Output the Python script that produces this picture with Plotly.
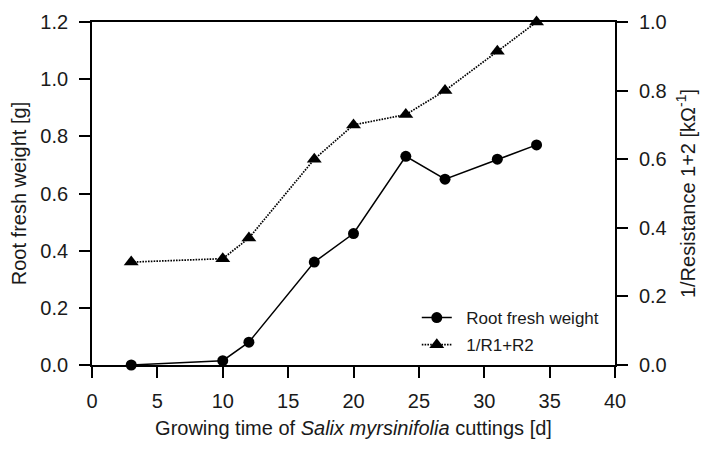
import plotly.graph_objects as go

days = [3, 10, 12, 17, 20, 24, 27, 31, 34]
root_weight = [0.0, 0.015, 0.08, 0.36, 0.46, 0.73, 0.65, 0.72, 0.77]
inv_resistance = [0.30, 0.31, 0.37, 0.60, 0.70, 0.73, 0.80, 0.915, 1.0]

x_ticks = [0, 5, 10, 15, 20, 25, 30, 35, 40]
y_left_ticks = [0, 0.2, 0.4, 0.6, 0.8, 1.0, 1.2]
y_right_ticks = [0, 0.2, 0.4, 0.6, 0.8, 1.0]

FONT = "Liberation Sans, Arial, sans-serif"
TXT = "#1a1a1a"

fig = go.Figure()
fig.add_trace(go.Scatter(
    x=days, y=root_weight, name="\u00a0\u00a0Root fresh weight", mode="lines+markers",
    line=dict(color="black", width=1.5),
    marker=dict(symbol="circle", size=11, color="black"),
    yaxis="y", cliponaxis=False, legend="legend"))
fig.add_trace(go.Scatter(
    x=days, y=inv_resistance, name="\u00a0\u00a01/R1+R2", mode="lines+markers",
    line=dict(color="black", width=1.7, dash="1.6px,1.2px"),
    marker=dict(symbol="triangle-up", size=13, color="black"),
    yaxis="y2", cliponaxis=False, legend="legend2"))

axis_common = dict(showline=True, linecolor="black", linewidth=1.8,
                   ticks="outside", ticklen=11, tickwidth=1.8, tickcolor="black",
                   showgrid=False, zeroline=False, automargin=False,
                   tickfont=dict(family=FONT, size=20, color=TXT))

leg_common = dict(xanchor="left", yanchor="middle", bgcolor="rgba(0,0,0,0)",
                  font=dict(family=FONT, size=17, color=TXT), borderwidth=0)

fig.update_layout(
    template="none",
    width=702, height=450,
    margin=dict(l=84, r=95, t=14, b=92.5, autoexpand=False),
    paper_bgcolor="white", plot_bgcolor="white",
    font=dict(family=FONT, color=TXT),
    xaxis=dict(range=[0, 40], tickvals=x_ticks, mirror=True,
               ticklabelstandoff=6,
               title=dict(text="Growing time of <i>Salix myrsinifolia</i> cuttings [d]",
                          font=dict(family=FONT, size=20, color=TXT), standoff=10),
               **axis_common),
    yaxis=dict(range=[0, 1.2], tickvals=y_left_ticks, tickformat=".1f",
               ticklabelstandoff=7,
               title=dict(text="Root fresh weight [g]",
                          font=dict(family=FONT, size=20, color=TXT), standoff=12),
               **axis_common),
    yaxis2=dict(range=[0, 1.0], tickvals=y_right_ticks, tickformat=".1f",
                overlaying="y", side="right", ticklabelstandoff=7,
                title=dict(text="1/Resistance 1+2 [kΩ<sup>-1</sup>]",
                           font=dict(family=FONT, size=20, color=TXT), standoff=15),
                **axis_common),
    legend=dict(x=0.621, y=0.137, **leg_common),
    legend2=dict(x=0.621, y=0.058, **leg_common),
    showlegend=True,
)

fig.write_html("out.html")
